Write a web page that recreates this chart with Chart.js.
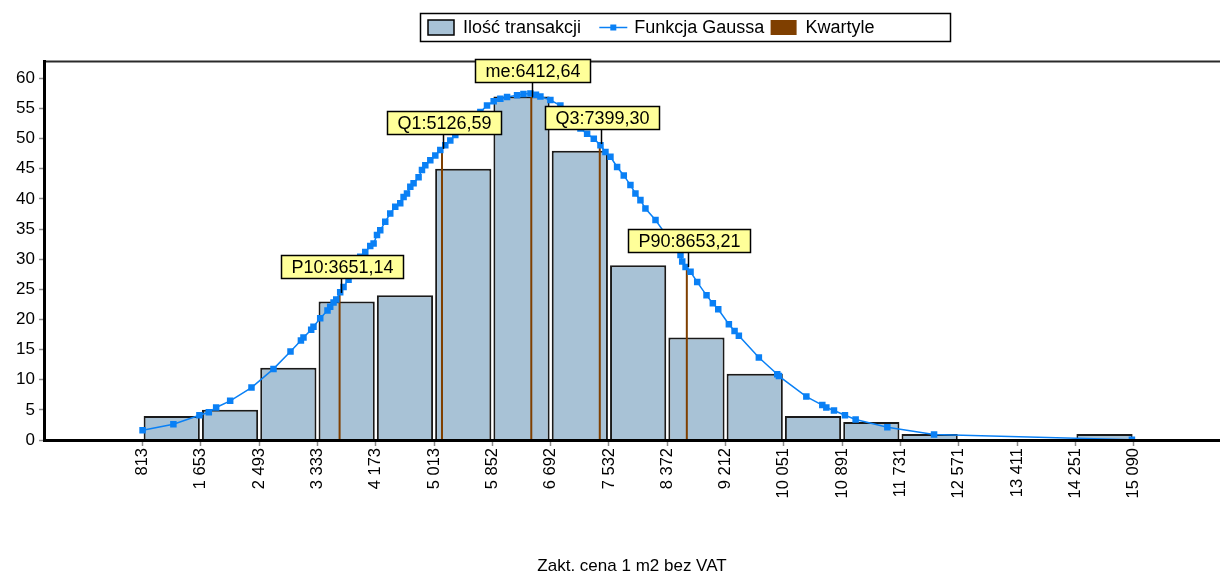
<!DOCTYPE html>
<html lang="pl">
<head>
<meta charset="utf-8">
<title>Ilość transakcji - rozkład ceny 1 m2</title>
<script src="https://cdn.jsdelivr.net/npm/chart.js@4.4.1/dist/chart.umd.min.js"></script>
<style>
  html, body { margin: 0; padding: 0; background: #fff; }
  #wrap { width: 1220px; height: 573px; }
</style>
</head>
<body>
<div id="wrap"><canvas id="myChart" width="1220" height="573"></canvas></div>
<script>
'use strict';

// granice przedzialow = ticki osi X
const binEdges = [813, 1653, 2493, 3333, 4173, 5013, 5852, 6692, 7532, 8372, 9212, 10051, 10891, 11731, 12571, 13411, 14251, 15090];
const tickLabels = ['813', '1 653', '2 493', '3 333', '4 173', '5 013', '5 852', '6 692', '7 532', '8 372',
  '9 212', '10 051', '10 891', '11 731', '12 571', '13 411', '14 251', '15 090'];

// ilosc transakcji w kazdym przedziale
const counts = [4, 5, 12, 23, 24, 45, 57, 48, 29, 17, 11, 4, 3, 1, 0, 0, 1];

const yTicks = [0, 5, 10, 15, 20, 25, 30, 35, 40, 45, 50, 55, 60];

// punkty krzywej Gaussa
const gaussX = [813, 1257, 1632, 1767, 1873, 2075, 2382, 2699, 2944, 3094, 3131, 3242, 3275, 3372, 3477, 3516,
  3564, 3603, 3660, 3708, 3780, 3852, 3949, 4021, 4093, 4141, 4190, 4237, 4309, 4381, 4453, 4525, 4573, 4622,
  4670, 4717, 4789, 4838, 4886, 4958, 5030, 5102, 5174, 5246, 5318, 5390, 5487, 5582, 5679, 5775, 5871, 5967,
  6064, 6208, 6300, 6400, 6480, 6544, 6688, 6832, 6976, 7049, 7121, 7217, 7313, 7409, 7481, 7553, 7649, 7745,
  7841, 7913, 7985, 8057, 8202, 8562, 8587, 8635, 8707, 8803, 8937, 9028, 9106, 9259, 9341, 9403, 9691, 9956,
  9980, 10375, 10605, 10663, 10773, 10931, 11085, 11542, 12215, 15065];
const gaussY = [1.6, 2.6, 4.1, 4.6, 5.4, 6.5, 8.7, 11.8, 14.7, 16.5, 17.0, 18.3, 18.8, 20.2, 21.5, 22.1,
  22.8, 23.3, 24.5, 25.4, 26.6, 28.5, 30.4, 31.2, 32.2, 32.6, 34.0, 34.8, 36.2, 37.6, 38.7, 39.3, 40.3, 40.9,
  42.0, 42.6, 43.6, 44.8, 45.6, 46.4, 47.2, 48.1, 48.9, 49.7, 50.6, 51.4, 52.5, 53.6, 54.4, 55.5, 56.2, 56.6,
  56.9, 57.2, 57.4, 57.5, 57.3, 57.0, 56.4, 55.5, 54.2, 53.0, 51.7, 50.8, 50.0, 48.9, 47.8, 47.0, 45.3, 43.9,
  42.3, 40.9, 39.8, 38.4, 36.5, 30.7, 29.6, 28.7, 27.9, 26.2, 24.0, 22.7, 21.7, 19.2, 18.1, 17.3, 13.7, 10.9,
  10.6, 7.2, 5.8, 5.4, 4.9, 4.1, 3.4, 2.1, 0.9, 0.05];

// kwartyle i percentyle
const quartNames = ['P10', 'Q1', 'me', 'Q3', 'P90'];
const quartValues = [3651.14, 5126.59, 6412.64, 7399.30, 8653.21];
const quartHeights = [24.4, 48.3, 56.9, 49.1, 28.7];

const FONT = '"Liberation Sans", Arial, sans-serif';
const barColor = '#a8c2d6';
const gaussColor = '#0a80f5';
const quartColor = '#7f3f00';

const barData = [];
for (let i = 0; i < counts.length; i++) {
  barData.push({ x: (binEdges[i] + binEdges[i + 1]) / 2, y: counts[i] });
}

const gaussData = [];
for (let i = 0; i < gaussX.length; i++) {
  gaussData.push({ x: gaussX[i], y: gaussY[i] });
}

// pionowe linie kwartyli - null przerywa linie
const quartData = [];
for (let i = 0; i < quartValues.length; i++) {
  quartData.push({ x: quartValues[i], y: 0 });
  quartData.push({ x: quartValues[i], y: quartHeights[i] });
  quartData.push({ x: quartValues[i], y: null });
}

// zolte etykiety nad kwartylami + gorna ramka wykresu
const quartileLabels = {
  id: 'quartileLabels',
  afterDatasetsDraw(chart) {
    const ctx = chart.ctx;
    const xs = chart.scales.x;
    const ys = chart.scales.y;
    const area = chart.chartArea;
    ctx.save();

    ctx.strokeStyle = '#2a2a2a';
    ctx.lineWidth = 2;
    ctx.beginPath();
    ctx.moveTo(area.left, area.top);
    ctx.lineTo(area.right, area.top);
    ctx.stroke();

    ctx.font = '18px ' + FONT;
    ctx.textAlign = 'center';
    ctx.textBaseline = 'middle';
    for (let i = 0; i < quartValues.length; i++) {
      const px = Math.round(xs.getPixelForValue(quartValues[i])) + 1.5;
      const py = ys.getPixelForValue(quartHeights[i]);
      const text = quartNames[i] + ':' + quartValues[i].toFixed(2).replace('.', ',');
      const w = Math.round(ctx.measureText(text).width + 20);
      const h = 23;
      const bottom = Math.round(py - 15) + 0.5;

      ctx.strokeStyle = '#000';
      ctx.lineWidth = 1.5;
      ctx.beginPath();
      ctx.moveTo(px, py);
      ctx.lineTo(px, bottom);
      ctx.stroke();

      const left = Math.round(px - w / 2) + 0.5;
      ctx.fillStyle = '#ffff99';
      ctx.fillRect(left, bottom - h, w, h);
      ctx.strokeRect(left, bottom - h, w, h);
      ctx.fillStyle = '#000';
      ctx.fillText(text, left + w / 2, bottom - h / 2 + 1);
    }
    ctx.restore();
  }
};

// legenda w ramce, trzy rowne kolumny
const legendBox = {
  id: 'legendBox',
  afterDraw(chart) {
    const ctx = chart.ctx;
    const sets = chart.data.datasets;
    const midY = 27.5;
    ctx.save();
    ctx.strokeStyle = '#000';
    ctx.lineWidth = 1.5;
    ctx.strokeRect(420.5, 13.5, 530, 28);

    ctx.font = '18px ' + FONT;
    ctx.textBaseline = 'middle';
    ctx.textAlign = 'left';
    for (let i = 0; i < sets.length; i++) {
      const x0 = 428 + i * 171.3;
      if (i === 0) {
        ctx.fillStyle = sets[i].backgroundColor;
        ctx.fillRect(x0, 20, 26, 15);
        ctx.strokeStyle = '#000';
        ctx.lineWidth = 1.5;
        ctx.strokeRect(x0, 20, 26, 15);
      } else if (i === 1) {
        ctx.strokeStyle = sets[i].borderColor;
        ctx.lineWidth = 1.5;
        ctx.beginPath();
        ctx.moveTo(x0, midY);
        ctx.lineTo(x0 + 28, midY);
        ctx.stroke();
        ctx.fillStyle = sets[i].backgroundColor;
        ctx.fillRect(x0 + 11, midY - 3, 6, 6);
      } else {
        ctx.fillStyle = sets[i].borderColor;
        ctx.fillRect(x0, 20, 26, 15);
      }
      ctx.fillStyle = '#000';
      ctx.fillText(sets[i].label, x0 + 35, midY + 1);
    }
    ctx.restore();
  }
};

const ctx = document.getElementById('myChart').getContext('2d');

new Chart(ctx, {
  type: 'bar',
  data: {
    datasets: [
      {
        type: 'bar',
        label: 'Ilość transakcji',
        data: barData,
        backgroundColor: barColor,
        borderColor: '#1a1a1a',
        borderWidth: 2,
        barPercentage: 0.965,
        categoryPercentage: 1,
        order: 3
      },
      {
        type: 'line',
        label: 'Funkcja Gaussa',
        data: gaussData,
        borderColor: gaussColor,
        backgroundColor: gaussColor,
        borderWidth: 1.5,
        pointStyle: 'rect',
        pointRadius: 4.6,
        pointBorderWidth: 0,
        tension: 0,
        order: 1
      },
      {
        type: 'line',
        label: 'Kwartyle',
        data: quartData,
        borderColor: quartColor,
        backgroundColor: quartColor,
        borderWidth: 2,
        pointRadius: 0,
        spanGaps: false,
        order: 2
      }
    ]
  },
  options: {
    responsive: false,
    animation: false,
    layout: { autoPadding: false, padding: { top: 61.5, left: 0, right: 0, bottom: 0 } },
    plugins: {
      legend: { display: false },
      tooltip: { enabled: false }
    },
    scales: {
      x: {
        type: 'linear',
        min: -607,
        max: 16334,
        offset: false,
        grid: { offset: false, drawOnChartArea: false, tickLength: 6, tickColor: '#8c8c8c', tickWidth: 1.5 },
        border: { color: '#000', width: 3, z: 1 },
        afterBuildTicks(scale) {
          scale.ticks = binEdges.map(v => ({ value: v }));
        },
        ticks: {
          autoSkip: false,
          minRotation: 90,
          maxRotation: 90,
          padding: 2,
          color: '#000',
          font: { family: FONT, size: 16.5 },
          callback: (v, i) => tickLabels[i]
        },
        title: {
          display: true,
          text: 'Zakt. cena 1 m2 bez VAT',
          color: '#000',
          font: { family: FONT, size: 17, lineHeight: 1 },
          padding: { top: 0, bottom: -2 }
        },
        afterFit(scale) {
          scale.height = 133;
        }
      },
      y: {
        min: 0,
        max: 62.8,
        grid: { drawOnChartArea: false, tickLength: 5, tickColor: '#8c8c8c', tickWidth: 1.5 },
        border: { color: '#000', width: 3, z: 1 },
        afterBuildTicks(scale) {
          scale.ticks = yTicks.map(v => ({ value: v }));
        },
        ticks: {
          padding: 4,
          color: '#000',
          font: { family: FONT, size: 17 }
        },
        afterFit(scale) {
          scale.width = 44;
        }
      }
    }
  },
  plugins: [quartileLabels, legendBox]
});
</script>
</body>
</html>
